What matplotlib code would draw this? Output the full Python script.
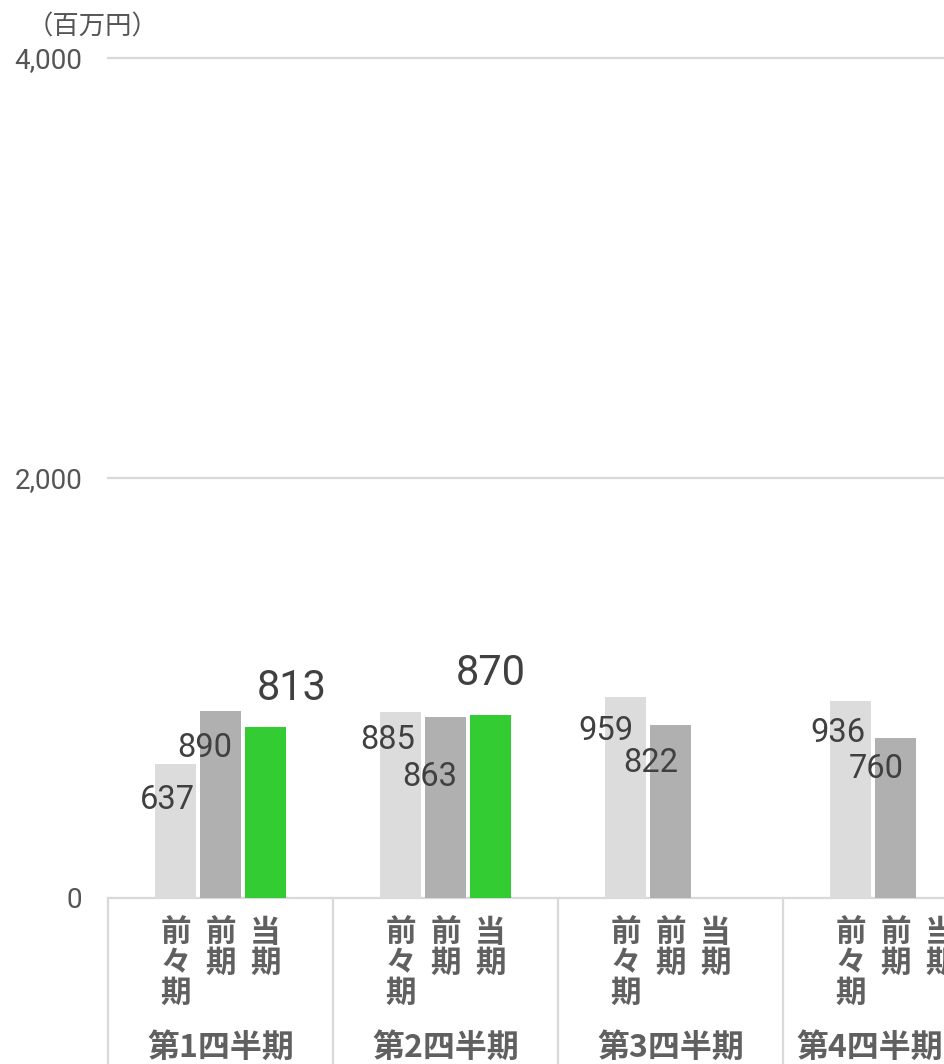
import matplotlib
matplotlib.use("Agg")
import matplotlib.pyplot as plt
import matplotlib.transforms as mtransforms
import numpy as np

quarters = ["第1四半期", "第2四半期", "第3四半期", "第4四半期"]
periods = ["前々期", "前期", "当期"]
before_last = [637, 885, 959, 936]
last_year = [890, 863, 822, 760]
current = [813, 870, None, None]

bar_colors = ["#dcdcdc", "#b0b0b0", "#33cc33"]
grid_color = "#d9d9d9"
cjk = ["Noto Sans CJK JP", "DejaVu Sans"]
num_font = ["Roboto", "DejaVu Sans"]

# label offsets from bar centre / bar top, in pixels (x right, y down)
label_offsets = [
    [(-8, 36), (-13, 28), (-20, 34), (-13, 32)],
    [(-16, 37), (-16, 60), (-20, 38), (-19, 31)],
    [(26, -39), (0, -42), (0, 0), (0, 0)],
]

fig = plt.figure(figsize=(9.44, 10.64), dpi=100)
ax = fig.add_axes([108 / 944, 166 / 1064, 900 / 944, 840 / 1064])

x = np.arange(len(quarters))
step = 0.2
width = 0.182
series = [before_last, last_year, current]

for i, values in enumerate(series):
    pos = x + (i - 1) * step
    for j, v in enumerate(values):
        if v is None:
            continue
        ax.bar(pos[j], v, width=width, color=bar_colors[i], zorder=2)
        dx, dy = label_offsets[i][j]
        big = i == 2
        ax.annotate(
            f"{v:,}",
            xy=(pos[j], v),
            xytext=(dx * 0.72, -dy * 0.72),
            textcoords="offset points",
            ha="center",
            va="center",
            fontsize=30 if big else 23.5,
            color="#404040",
            family=num_font,
        )

ax.set_xlim(-0.5, 3.5)
ax.set_ylim(0, 4000)
ax.set_yticks([0, 2000, 4000])
ax.set_yticklabels(["0", "2,000", "4,000"], family=num_font, fontsize=20, color="#555555")
ax.tick_params(axis="y", length=0, pad=18.5)
ax.set_xticks([])
for side in ["top", "right", "left", "bottom"]:
    ax.spines[side].set_visible(False)

for y in [0, 2000, 4000]:
    ax.axhline(y, color=grid_color, lw=1.6, clip_on=False, zorder=1)

# category table below the axis
trans = mtransforms.blended_transform_factory(ax.transData, ax.transAxes)
for b in np.arange(-0.5, 4.0, 1.0):
    ax.plot([b, b], [0, -0.3], color=grid_color, lw=1.6, transform=trans, clip_on=False)

for j in range(len(quarters)):
    for i, p in enumerate(periods):
        ax.annotate(
            "\n".join(p),
            xy=(x[j] + (i - 1) * step, 0),
            xycoords=trans,
            xytext=(0, -19 * 0.72),
            textcoords="offset points",
            ha="center",
            va="top",
            fontsize=22,
            fontweight="bold",
            color="#606060",
            family=cjk,
            linespacing=0.92,
        )

quarter_style = dict(fontsize=23, fontweight="bold", color="#606060", family=cjk, va="center")
for j in range(len(quarters) - 1):
    ax.annotate(quarters[j], xy=(x[j], 0), xycoords=trans,
                xytext=(0, -150 * 0.72), textcoords="offset points",
                ha="center", **quarter_style)
# the last quarter label is kept inside the figure's right edge
fig.text(943 / 944, 1 - 1048 / 1064, quarters[-1], ha="right", **quarter_style)

fig.text(93 / 944, 1 - 27 / 1064, "（百万円）", ha="center", va="center",
         fontsize=19, color="#555555", family=cjk)

fig.savefig("out.png", dpi=100)
